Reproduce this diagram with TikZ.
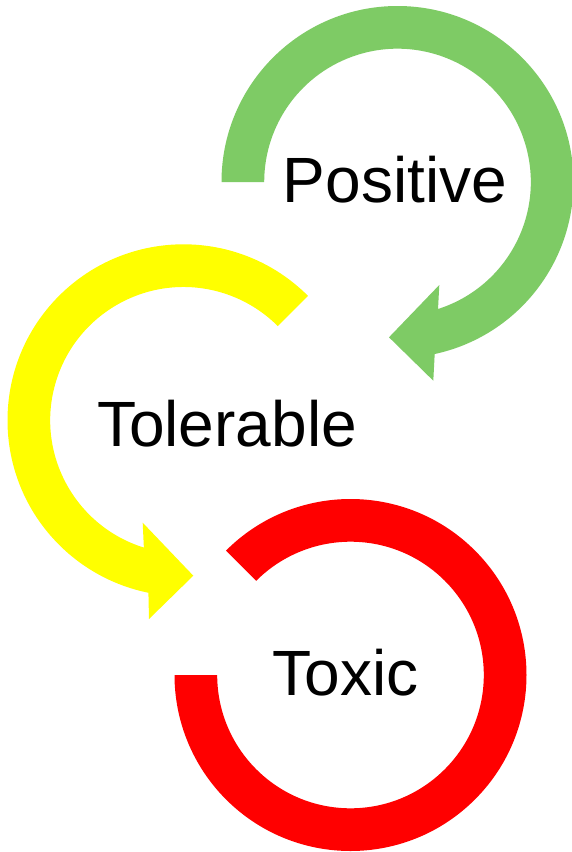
\documentclass[tikz,border=0pt]{standalone}
\usepackage{fontspec}
\setmainfont{Liberation Sans}
\usetikzlibrary{calc}
\definecolor{cgreen}{RGB}{126,203,101}
\definecolor{cyellow}{RGB}{255,255,0}
\definecolor{cred}{RGB}{255,0,0}
\tikzset{
  lbl/.style={anchor=base, inner sep=0pt, font=\fontsize{64}{76}\selectfont, text=black}
}
\begin{document}
\begin{tikzpicture}[x=1pt,y=-1pt]
\useasboundingbox (0,0) rectangle (572,852);
\fill[white] (0,0) rectangle (572,852);
\coordinate (gc) at (397.5,182);
\coordinate (yc) at (183.5,420.3);
\coordinate (rc) at (350.5,675);
% green arrow
\fill[cgreen] ($(gc)+(180:176)$) arc[start angle=180, end angle=437.8, radius=176]
  -- (433.3,380.7) -- (389,337.3) -- (439.3,285)
  -- ($(gc)+(432.3:133.3)$) arc[start angle=432.3, end angle=180, radius=133.3] -- cycle;
% yellow arrow
\fill[cyellow] ($(yc)+(-45:176)$) arc[start angle=-45, end angle=-258.5, radius=176]
  -- (149,619) -- (193.3,575.7) -- (142.7,522.7)
  -- ($(yc)+(-252.7:133.3)$) arc[start angle=-252.7, end angle=-45, radius=133.3] -- cycle;
% red ring
\fill[cred] ($(rc)+(225:176)$) arc[start angle=225, end angle=540, radius=176]
  -- ($(rc)+(540:133.3)$) arc[start angle=540, end angle=225, radius=133.3] -- cycle;
\node[lbl] (pos) at (395,202.3) {Positive};
\node[lbl] (tol) at (227,446.7) {Tolerable};
\node[lbl] (tox) at (345.5,695) {Toxic};
\end{tikzpicture}
\end{document}
